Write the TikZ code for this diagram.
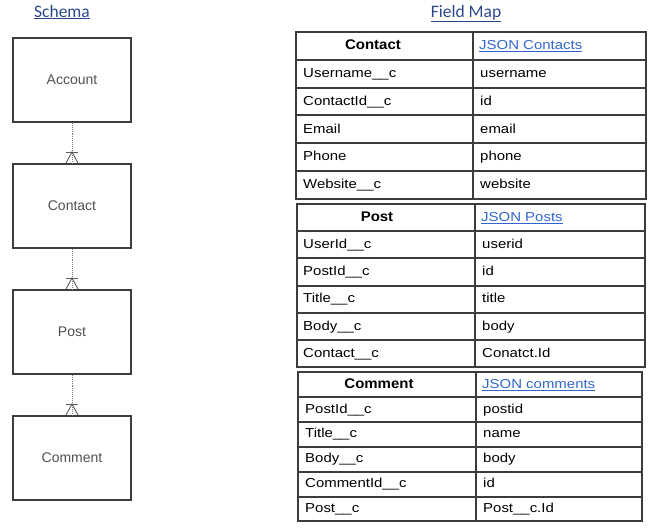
\documentclass[tikz,border=0pt]{standalone}
\usepackage{fontspec}
\setmainfont{Liberation Sans}
\newfontfamily\titlefont{Carlito}
\usepackage{xcolor}
\usetikzlibrary{positioning,calc}

\definecolor{titleblue}{RGB}{44,72,138}
\definecolor{linkblue}{RGB}{51,102,204}
\definecolor{boxgray}{RGB}{62,62,62}
\definecolor{labelgray}{RGB}{80,80,80}
\definecolor{gridgray}{RGB}{60,60,60}

\tikzset{
  entity/.style={draw=boxgray, line width=2pt, minimum width=118pt, minimum height=84pt,
    text=labelgray, font=\fontsize{14}{16}\selectfont},
  rel/.style={densely dotted, gray, line width=0.9pt},
  foot/.style={black!65, line width=0.9pt},
  grid/.style={gridgray, line width=1.1pt},
  cell/.style={anchor=west, inner sep=0pt, text height=9pt, text depth=2.5pt,
    xscale=1.15, transform shape, font=\fontsize{13}{15}\selectfont},
  head/.style={inner sep=0pt, text height=10pt, text depth=2.5pt,
    xscale=1.07, transform shape, font=\fontsize{14}{16}\selectfont\bfseries},
  link/.style={cell, text=linkblue},
  title/.style={anchor=base, text=titleblue, font=\titlefont\fontsize{17.5}{19}\selectfont}
}

\begin{document}
\begin{tikzpicture}[x=1pt,y=-1pt]
\useasboundingbox (0,0) rectangle (649,528);

% titles
\node[title] (schema) at (62,17) {\underline{Schema}};
\node[title] (fieldmap) at (466,17) {\underline{Field Map}};

% schema entities
\node[entity] (acc) at (72,80) {Account};
\node[entity] (con) at (72,206) {Contact};
\node[entity] (post) at (72,332) {Post};
\node[entity] (com) at (72,458) {Comment};

% one-to-many links
\foreach \a/\b in {acc/con, con/post, post/com}
{
  \draw[rel] (\a.south) -- (\b.north);
  \draw[foot] ($(\b.north)+(-6,-11)$) -- ($(\b.north)+(6,-11)$);
  \draw[foot] ($(\b.north)+(-6,0)$) -- ($(\b.north)+(0,-11)$) -- ($(\b.north)+(6,0)$);
}

% Contact table
\draw[grid] (296,32) rectangle (646,199);
\foreach \y in {60,88,115,143,171}
  \draw[grid] (296,\y) -- (646,\y);
\draw[grid] (473,32) -- (473,199);
\node[head] (ct-h) at (373,46) {Contact};
\node[link] (ct-j) at (479,46) {\underline{JSON Contacts}};
\foreach \f/\v [count=\i] in {Username\_\_c/username, ContactId\_\_c/id, Email/email,
    Phone/phone, Website\_\_c/website}
{
  \node[cell] (ct-f\i) at (303,{46.5+27.8*\i}) {\f};
  \node[cell] (ct-v\i) at (480,{46.5+27.8*\i}) {\v};
}

% Post table
\draw[grid] (297,204) rectangle (645,367);
\foreach \y in {231,258,286,313,340}
  \draw[grid] (297,\y) -- (645,\y);
\draw[grid] (475,204) -- (475,367);
\node[head] (pt-h) at (377,218) {Post};
\node[link] (pt-j) at (481,218) {\underline{JSON Posts}};
\foreach \f/\v [count=\i] in {UserId\_\_c/userid, PostId\_\_c/id, Title\_\_c/title,
    Body\_\_c/body, Contact\_\_c/Conatct.Id}
{
  \node[cell] (pt-f\i) at (303,{218+27.2*\i}) {\f};
  \node[cell] (pt-v\i) at (482,{218+27.2*\i}) {\v};
}

% Comment table
\draw[grid] (298,372) rectangle (642,521);
\foreach \y in {397,422,447,472,497}
  \draw[grid] (298,\y) -- (642,\y);
\draw[grid] (476,372) -- (476,521);
\node[head] (cm-h) at (379,385) {Comment};
\node[link] (cm-j) at (482,385) {\underline{JSON comments}};
\foreach \f/\v [count=\i] in {PostId\_\_c/postid, Title\_\_c/name, Body\_\_c/body,
    CommentId\_\_c/id, Post\_\_c/Post\_\_c.Id}
{
  \node[cell] (cm-f\i) at (305,{385+24.8*\i}) {\f};
  \node[cell] (cm-v\i) at (483,{385+24.8*\i}) {\v};
}
\end{tikzpicture}
\end{document}
